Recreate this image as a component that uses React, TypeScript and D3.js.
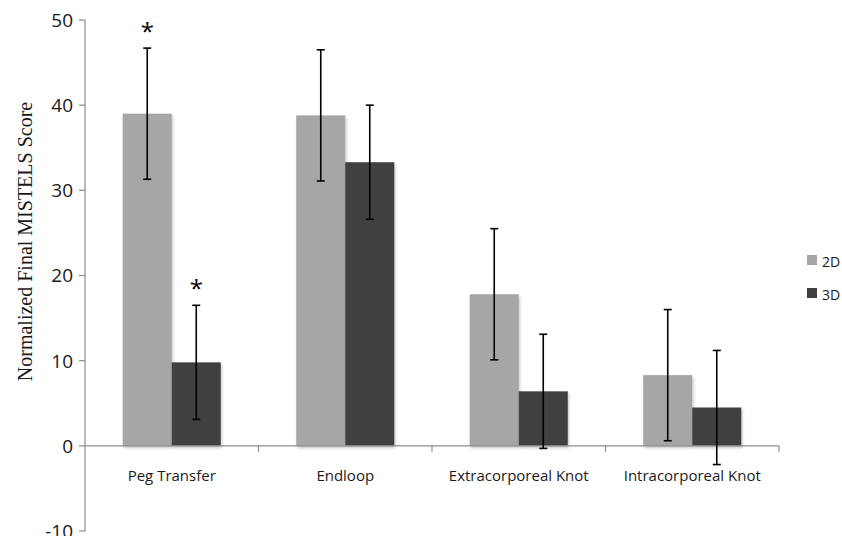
import React from "react";
import * as d3 from "d3";

const categories = ["Peg Transfer", "Endloop", "Extracorporeal Knot", "Intracorporeal Knot"];
const seriesNames = ["2D", "3D"];
const means2D = [39.0, 38.8, 17.8, 8.3];
const means3D = [9.8, 33.3, 6.4, 4.5];
const err2D = [7.7, 7.7, 7.7, 7.7];
const err3D = [6.7, 6.7, 6.7, 6.7];
const significant2D = [true, false, false, false];
const significant3D = [true, false, false, false];
const yTicks = [-10, 0, 10, 20, 30, 40, 50];
const colors = ["#a6a6a6", "#404040"];

const W = 842;
const H = 536;
const left = 85;
const right = 779;
const top = 20;
const bottom = 531;

export default function App() {
  const y = d3.scaleLinear().domain([-10, 50]).range([bottom, top]);
  const x0 = d3.scaleBand<string>().domain(categories).range([left, right]).paddingInner(0.435).paddingOuter(0.2175);
  const x1 = d3.scaleBand<string>().domain(seriesNames).range([0, x0.bandwidth()]);
  const series = [
    { name: "2D", means: means2D, errs: err2D, sig: significant2D },
    { name: "3D", means: means3D, errs: err3D, sig: significant3D },
  ];
  const step = (right - left) / categories.length;
  const sans = "'Open Sans', 'DejaVu Sans', sans-serif";

  return (
    <svg width={W} height={H} style={{ position: "absolute", left: 0, top: 0, background: "#fff" }}>
      <defs>
        <filter id="barShadow" x="-20%" y="-5%" width="140%" height="115%">
          <feDropShadow dx="1" dy="2" stdDeviation="1.5" floodColor="#000" floodOpacity="0.25" />
        </filter>
      </defs>

      {/* y axis */}
      <line x1={left} x2={left} y1={y(50)} y2={y(-10)} stroke="#8c8c8c" strokeWidth={1.2} />
      {yTicks.map((t) => (
        <g key={t}>
          <line x1={left - 6} x2={left} y1={y(t)} y2={y(t)} stroke="#8c8c8c" strokeWidth={1.2} />
          <text x={left - 12} y={y(t)} dy="0.36em" textAnchor="end" fontFamily={sans} fontSize={19} fill="#1a1a1a">
            {t}
          </text>
        </g>
      ))}
      <text
        transform={`translate(32, ${(y(50) + y(-10)) / 2 - 34}) rotate(-90)`}
        textAnchor="middle"
        fontFamily="'Liberation Serif', 'Times New Roman', serif"
        fontSize={20}
        fill="#1a1a1a"
      >
        Normalized Final MISTELS Score
      </text>

      {/* bars */}
      {categories.map((c, i) =>
        series.map((s, k) => (
          <rect
            key={c + s.name}
            x={(x0(c) as number) + (x1(s.name) as number)}
            y={y(Math.max(0, s.means[i]))}
            width={x1.bandwidth()}
            height={Math.abs(y(s.means[i]) - y(0))}
            fill={colors[k]}
            filter="url(#barShadow)"
          />
        ))
      )}

      {/* x axis */}
      <line x1={left} x2={right} y1={y(0)} y2={y(0)} stroke="#8c8c8c" strokeWidth={1.2} />
      {categories.map((c, i) => (
        <line key={"t" + c} x1={left + step * (i + 1)} x2={left + step * (i + 1)} y1={y(0)} y2={y(0) + 6} stroke="#8c8c8c" strokeWidth={1.2} />
      ))}
      {categories.map((c) => (
        <text key={"l" + c} x={(x0(c) as number) + x0.bandwidth() / 2} y={y(0) + 35} textAnchor="middle" fontFamily={sans} fontSize={15} fill="#1a1a1a">
          {c}
        </text>
      ))}

      {/* error bars and significance marks */}
      {categories.map((c, i) =>
        series.map((s) => {
          const cx = (x0(c) as number) + (x1(s.name) as number) + x1.bandwidth() / 2;
          const hi = y(s.means[i] + s.errs[i]);
          const lo = y(s.means[i] - s.errs[i]);
          return (
            <g key={"e" + c + s.name} stroke="#000" strokeWidth={1.6}>
              <line x1={cx} x2={cx} y1={hi} y2={lo} />
              <line x1={cx - 4} x2={cx + 4} y1={hi} y2={hi} />
              <line x1={cx - 4} x2={cx + 4} y1={lo} y2={lo} />
              {s.sig[i] && (
                <text x={cx} y={hi - 8} textAnchor="middle" stroke="none" fill="#000" fontFamily={sans} fontSize={24}>
                  *
                </text>
              )}
            </g>
          );
        })
      )}

      {/* legend */}
      {seriesNames.map((n, k) => (
        <g key={"lg" + n} transform={`translate(807, ${255 + k * 33})`}>
          <rect x={0} y={0} width={10} height={10} fill={colors[k]} />
          <text x={15} y={7} dy="0.36em" fontFamily={sans} fontSize={14} fill="#1a1a1a">
            {n}
          </text>
        </g>
      ))}
    </svg>
  );
}
